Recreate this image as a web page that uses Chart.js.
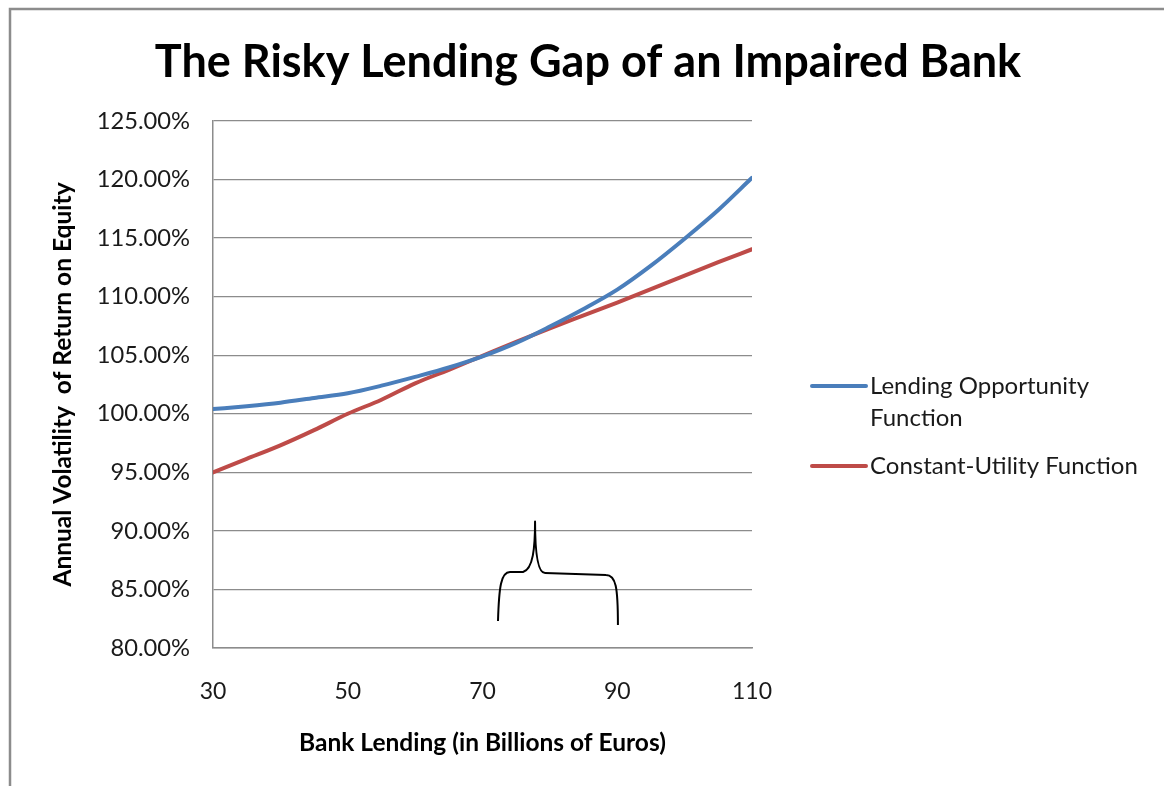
<!DOCTYPE html>
<html>
<head>
<meta charset="utf-8">
<script src="https://cdn.jsdelivr.net/npm/chart.js@4/dist/chart.umd.min.js"></script>
<style>
  html, body { margin: 0; padding: 0; background: #ffffff; }
  #wrap { width: 1164px; height: 786px; position: relative; }
</style>
</head>
<body>
<div id="wrap"><canvas id="c" width="1164" height="786"></canvas></div>
<script>
// Bank lending, billions of euros
const lending = [30, 35, 40, 45, 50, 55, 60, 65, 70, 75, 80, 85, 90, 95, 100, 105, 110];
// Annual volatility of return on equity, percent
const opportunityValues = [100.4, 100.65, 100.95, 101.35, 101.75, 102.4, 103.15, 103.95, 104.9, 106.05, 107.45, 108.95, 110.6, 112.65, 114.95, 117.4, 120.15];
const utilityValues = [95.0, 96.15, 97.3, 98.6, 100.0, 101.2, 102.6, 103.75, 104.95, 106.15, 107.3, 108.4, 109.5, 110.65, 111.8, 112.95, 114.05];

const seriesNames = ['Lending Opportunity Function', 'Constant-Utility Function'];
const seriesLegendLines = [['Lending Opportunity', 'Function'], ['Constant-Utility Function']];
const xTicks = [30, 50, 70, 90, 110];
const yMin = 80, yMax = 125, yStep = 5;

// The risky lending gap bracket: lending range and vertical placement (percent)
const gapLending = [72.3, 77.8, 90.1];   // left foot, peak, right foot
const gapLevels = [82.3, 86.4, 90.8];    // feet, bar, peak

const FONT = 'Lato, "Open Sans", sans-serif';

const framePlugin = {
  id: 'frame',
  beforeDraw(chart) {
    const ctx = chart.ctx;
    ctx.save();
    ctx.fillStyle = '#ffffff';
    ctx.fillRect(0, 0, chart.width, chart.height);
    ctx.strokeStyle = '#8c8c8c';
    ctx.lineWidth = 2.5;
    ctx.beginPath();
    ctx.moveTo(10, chart.height + 2);
    ctx.lineTo(10, 9);
    ctx.lineTo(chart.width + 2, 9);
    ctx.stroke();
    ctx.restore();
  }
};

const legendPlugin = {
  id: 'sideLegend',
  afterDraw(chart) {
    const ctx = chart.ctx;
    ctx.save();
    const x0 = 812, x1 = 866, tx = 870;
    const rows = [386, 466];
    chart.data.datasets.forEach((ds, i) => {
      const y = rows[i];
      ctx.strokeStyle = ds.borderColor;
      ctx.lineWidth = 4;
      ctx.lineCap = 'round';
      ctx.beginPath();
      ctx.moveTo(x0, y);
      ctx.lineTo(x1, y);
      ctx.stroke();
      ctx.fillStyle = '#1a1a1a';
      ctx.font = '24px ' + FONT;
      ctx.textAlign = 'left';
      ctx.textBaseline = 'middle';
      seriesLegendLines[i].forEach((line, k) => {
        ctx.fillText(line, tx, y + k * 32);
      });
    });
    ctx.restore();
  }
};

const bracePlugin = {
  id: 'gapBrace',
  afterDatasetsDraw(chart) {
    const xs = chart.scales.x, ys = chart.scales.y;
    const xl = xs.getPixelForValue(gapLending[0]);
    const xp = xs.getPixelForValue(gapLending[1]);
    const xr = xs.getPixelForValue(gapLending[2]);
    const yFoot = ys.getPixelForValue(gapLevels[0]);
    const yBar = ys.getPixelForValue(gapLevels[1]);
    const yPeak = ys.getPixelForValue(gapLevels[2]);
    const ctx = chart.ctx;
    ctx.save();
    ctx.strokeStyle = '#000000';
    ctx.lineWidth = 2;
    ctx.lineJoin = 'round';
    ctx.beginPath();
    ctx.moveTo(xl, yFoot);
    ctx.bezierCurveTo(xl + 1, yBar + 14, xl + 3, yBar - 1, xl + 12, yBar - 1);
    ctx.lineTo(xp - 12, yBar - 1);
    ctx.bezierCurveTo(xp - 2, yBar - 4, xp, yBar - 25, xp, yPeak);
    ctx.bezierCurveTo(xp, yBar - 25, xp + 2, yBar, xp + 10, yBar);
    ctx.lineTo(xr - 12, yBar + 2);
    ctx.bezierCurveTo(xr - 2, yBar + 2, xr, yBar + 14, xr, yFoot + 4);
    ctx.stroke();
    ctx.restore();
  }
};

const toPoints = vals => lending.map((x, i) => ({ x: x, y: vals[i] }));

new Chart(document.getElementById('c'), {
  type: 'line',
  data: {
    datasets: [
      {
        label: seriesNames[0],
        data: toPoints(opportunityValues),
        borderColor: '#4a7ebb',
        borderWidth: 4,
        pointRadius: 0,
        cubicInterpolationMode: 'monotone',
        borderCapStyle: 'round',
        borderJoinStyle: 'round'
      },
      {
        label: seriesNames[1],
        data: toPoints(utilityValues),
        borderColor: '#be4b48',
        borderWidth: 4,
        pointRadius: 0,
        cubicInterpolationMode: 'monotone',
        borderCapStyle: 'round',
        borderJoinStyle: 'round'
      }
    ]
  },
  options: {
    responsive: false,
    animation: false,
    layout: { padding: { top: 0, left: 12, right: 0, bottom: 20 } },
    plugins: {
      legend: { display: false },
      tooltip: { enabled: false },
      title: {
        display: true,
        text: 'The Risky Lending Gap of an Impaired Bank',
        color: '#000000',
        font: { family: FONT, size: 45, weight: 'bold', lineHeight: 1.2 },
        padding: { top: 35, bottom: 32 }
      }
    },
    scales: {
      x: {
        type: 'linear',
        min: 30,
        max: 110,
        afterBuildTicks: s => { s.ticks = xTicks.map(v => ({ value: v })); },
        afterFit: s => { s.height = 786 - 648 - 20; },
        grid: { display: false, drawTicks: false },
        border: { display: true, color: '#8c8c8c', width: 1.5 },
        ticks: { color: '#1a1a1a', font: { family: FONT, size: 23 }, padding: 30, maxRotation: 0 },
        title: {
          display: true,
          text: 'Bank Lending (in Billions of Euros)',
          color: '#000000',
          font: { family: FONT, size: 24.5, weight: 'bold' },
          padding: { top: 0, bottom: 8 }
        }
      },
      y: {
        min: yMin,
        max: yMax,
        ticks: {
          stepSize: yStep,
          color: '#1a1a1a',
          font: { family: FONT, size: 23.7 },
          padding: 23,
          callback: v => v.toFixed(2) + '%'
        },
        afterFit: s => { s.width = 213 - 12; },
        grid: { color: '#8c8c8c', lineWidth: 1.3, drawTicks: false },
        border: { display: true, color: '#8c8c8c', width: 1.5 },
        title: {
          display: true,
          text: 'Annual Volatility  of Return on Equity',
          color: '#000000',
          font: { family: FONT, size: 24.5, weight: 'bold' },
          padding: { top: 36, bottom: 0 }
        }
      },
      // empty right-hand axis that reserves the legend column
      legendSpace: {
        type: 'linear',
        position: 'right',
        display: true,
        grid: { display: false, drawTicks: false },
        border: { display: false },
        ticks: { display: false },
        afterFit: s => { s.width = 1164 - 752; }
      }
    }
  },
  plugins: [framePlugin, bracePlugin, legendPlugin]
});
</script>
</body>
</html>
